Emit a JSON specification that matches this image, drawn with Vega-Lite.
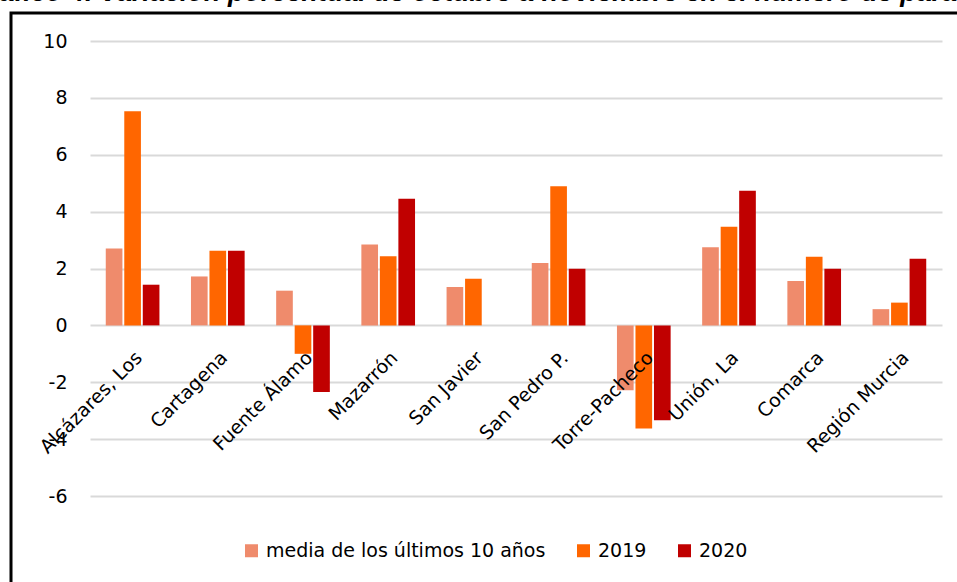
{
  "$schema": "https://vega.github.io/schema/vega-lite/v6.json",
  "width": 946,
  "height": 569,
  "autosize": {"type": "none"},
  "padding": {"left": 11, "top": 13, "right": 0, "bottom": 0},
  "background": "white",
  "title": {
    "text": "Gráfico 4. Variación porcentual de octubre a noviembre en el número de parados",
    "font": "Liberation Sans",
    "fontSize": 27,
    "fontStyle": "italic",
    "fontWeight": "bold",
    "color": "black",
    "anchor": "start",
    "frame": "group",
    "baseline": "alphabetic",
    "offset": -15,
    "dx": -43
  },
  "data": {
    "values": [
      {"municipio": "Alcázares, Los", "serie": "media de los últimos 10 años", "valor": 2.7},
      {"municipio": "Alcázares, Los", "serie": "2019", "valor": 7.53},
      {"municipio": "Alcázares, Los", "serie": "2020", "valor": 1.43},
      {"municipio": "Cartagena", "serie": "media de los últimos 10 años", "valor": 1.72},
      {"municipio": "Cartagena", "serie": "2019", "valor": 2.62},
      {"municipio": "Cartagena", "serie": "2020", "valor": 2.62},
      {"municipio": "Fuente Álamo", "serie": "media de los últimos 10 años", "valor": 1.22},
      {"municipio": "Fuente Álamo", "serie": "2019", "valor": -1.0},
      {"municipio": "Fuente Álamo", "serie": "2020", "valor": -2.34},
      {"municipio": "Mazarrón", "serie": "media de los últimos 10 años", "valor": 2.84},
      {"municipio": "Mazarrón", "serie": "2019", "valor": 2.43},
      {"municipio": "Mazarrón", "serie": "2020", "valor": 4.45},
      {"municipio": "San Javier", "serie": "media de los últimos 10 años", "valor": 1.35},
      {"municipio": "San Javier", "serie": "2019", "valor": 1.64},
      {"municipio": "San Pedro P.", "serie": "media de los últimos 10 años", "valor": 2.19},
      {"municipio": "San Pedro P.", "serie": "2019", "valor": 4.89},
      {"municipio": "San Pedro P.", "serie": "2020", "valor": 1.99},
      {"municipio": "Torre-Pacheco", "serie": "media de los últimos 10 años", "valor": -2.28},
      {"municipio": "Torre-Pacheco", "serie": "2019", "valor": -3.63},
      {"municipio": "Torre-Pacheco", "serie": "2020", "valor": -3.34},
      {"municipio": "Unión, La", "serie": "media de los últimos 10 años", "valor": 2.75},
      {"municipio": "Unión, La", "serie": "2019", "valor": 3.47},
      {"municipio": "Unión, La", "serie": "2020", "valor": 4.73},
      {"municipio": "Comarca", "serie": "media de los últimos 10 años", "valor": 1.56},
      {"municipio": "Comarca", "serie": "2019", "valor": 2.41},
      {"municipio": "Comarca", "serie": "2020", "valor": 1.99},
      {"municipio": "Región Murcia", "serie": "media de los últimos 10 años", "valor": 0.57},
      {"municipio": "Región Murcia", "serie": "2019", "valor": 0.8},
      {"municipio": "Región Murcia", "serie": "2020", "valor": 2.34}
    ]
  },
  "mark": {"type": "bar"},
  "encoding": {
    "x": {
      "field": "municipio",
      "type": "nominal",
      "sort": null,
      "scale": {"range": [79, 931], "paddingInner": 0.37, "paddingOuter": 0.185},
      "axis": {
        "title": null,
        "orient": "bottom",
        "offset": -257,
        "domain": false,
        "ticks": false,
        "tickSize": 0,
        "grid": false,
        "labelAngle": -45,
        "labelAlign": "right",
        "labelBaseline": "top",
        "labelPadding": 23,
        "labelFont": "DejaVu Sans",
        "labelFontSize": 19,
        "labelColor": "black",
        "labelOverlap": false,
        "labelBound": false,
        "labelLimit": 400,
        "zindex": 1
      }
    },
    "xOffset": {
      "field": "serie",
      "type": "nominal",
      "sort": ["media de los últimos 10 años", "2019", "2020"],
      "scale": {"paddingInner": 0.1, "paddingOuter": 0}
    },
    "y": {
      "field": "valor",
      "type": "quantitative",
      "scale": {"domain": [-6, 10], "range": [483, 28], "nice": false, "zero": false},
      "axis": {
        "title": null,
        "values": [-6, -4, -2, 0, 2, 4, 6, 8, 10],
        "labelExpr": "'' + datum.value",
        "offset": -56,
        "domain": false,
        "ticks": false,
        "tickSize": 0,
        "labelPadding": 0,
        "labelFont": "DejaVu Sans",
        "labelFontSize": 19,
        "labelColor": "black",
        "labelBaseline": "middle",
        "grid": true,
        "gridColor": "#d9d9d9",
        "gridWidth": 2,
        "zindex": 0
      }
    },
    "color": {
      "field": "serie",
      "type": "nominal",
      "sort": ["media de los últimos 10 años", "2019", "2020"],
      "scale": {
        "domain": ["media de los últimos 10 años", "2019", "2020"],
        "range": ["#EF8B6C", "#FF6600", "#C00000"]
      },
      "legend": {
        "title": null,
        "orient": "none",
        "direction": "horizontal",
        "legendX": 231,
        "legendY": 528,
        "padding": 0,
        "symbolType": "square",
        "symbolSize": 169,
        "symbolStrokeWidth": 0,
        "labelFont": "DejaVu Sans",
        "labelFontSize": 19,
        "labelColor": "black",
        "labelOffset": 5,
        "labelLimit": 400,
        "columnPadding": 28
      }
    }
  },
  "config": {
    "view": {
      "stroke": "black",
      "strokeWidth": 3,
      "strokeCap": "square",
      "strokeDash": [946, 1515, 569, 0]
    }
  }
}
